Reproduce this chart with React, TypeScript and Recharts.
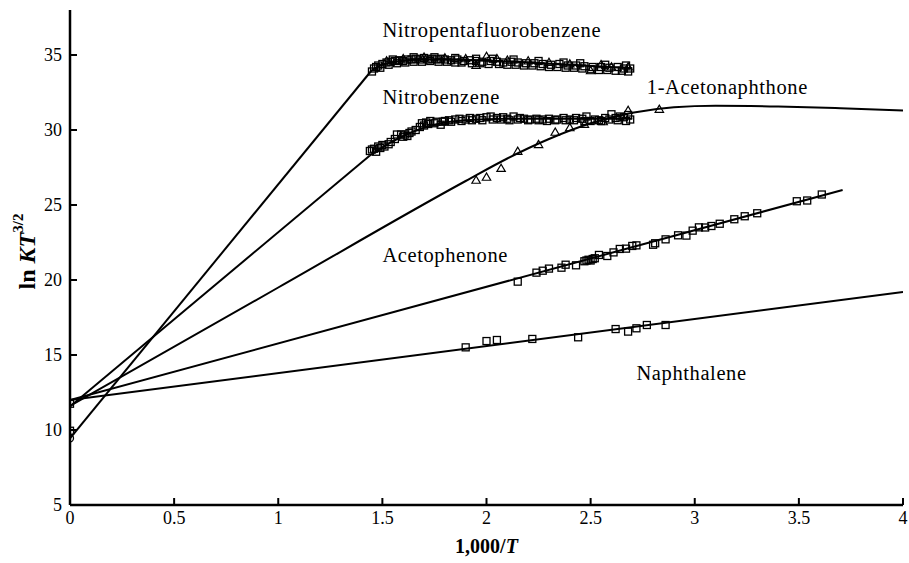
import React from 'react';
import { ComposedChart, Line, Scatter, XAxis, YAxis, ReferenceDot, Label } from 'recharts';

// Axis ticks
const xTicks = [0, 0.5, 1, 1.5, 2, 2.5, 3, 3.5, 4];
const yTicks = [5, 10, 15, 20, 25, 30, 35];

// Fitted curves: [1000/T, ln KT^(3/2)]
const nitropentafluorobenzeneLinear = [[0, 9.45], [1.45, 34.0]];
const nitropentafluorobenzeneCurve = [
  [1.45, 34.0], [1.5, 34.35], [1.6, 34.62], [1.7, 34.72], [2.0, 34.62], [2.3, 34.42], [2.7, 34.12],
];
const nitrobenzeneLinear = [[0, 11.57], [1.44, 28.3]];
const nitrobenzeneCurve = [
  [1.44, 28.3], [1.55, 29.25], [1.65, 29.9], [1.75, 30.35], [1.9, 30.65], [2.1, 30.75], [2.4, 30.75], [2.7, 30.75],
];
const acetonaphthoneFit = [
  [0, 11.6], [1.0, 19.5], [1.9, 26.6], [2.1, 28.1], [2.3, 29.4], [2.5, 30.45], [2.7, 31.15], [2.9, 31.52],
  [3.1, 31.62], [3.4, 31.57], [3.7, 31.45], [4.0, 31.3],
];
const acetophenoneFit = [[0, 12.0], [3.71, 26.0]];
const naphthaleneFit = [[0, 12.0], [4.0, 19.2]];

// Measured points
const nitropentafluorobenzeneSquares = [
  [1.45, 33.9], [1.46, 34.1], [1.47, 34.2], [1.48, 34.3], [1.5, 34.4], [1.52, 34.5], [1.54, 34.55], [1.56, 34.6],
  [1.58, 34.65], [1.6, 34.6], [1.62, 34.7], [1.64, 34.7], [1.66, 34.75], [1.68, 34.7], [1.7, 34.8], [1.72, 34.7],
  [1.74, 34.75], [1.76, 34.7], [1.78, 34.75], [1.8, 34.7], [1.83, 34.65], [1.86, 34.7], [1.89, 34.6], [1.92, 34.65],
  [1.95, 34.6], [1.98, 34.55], [2.02, 34.6], [2.05, 34.55], [2.08, 34.5], [2.12, 34.55], [2.15, 34.5], [2.19, 34.45],
  [2.23, 34.45], [2.27, 34.4], [2.31, 34.35], [2.35, 34.4], [2.39, 34.3], [2.43, 34.3], [2.47, 34.25], [2.51, 34.2],
  [2.55, 34.2], [2.59, 34.15], [2.63, 34.2], [2.66, 34.1], [2.69, 34.1],
  [1.49, 34.15], [1.53, 34.35], [1.57, 34.45], [1.61, 34.5], [1.65, 34.55], [1.69, 34.55], [1.73, 34.6], [1.77, 34.55],
  [1.81, 34.55], [1.85, 34.5], [1.88, 34.5], [1.93, 34.45], [1.97, 34.45], [2.01, 34.4], [2.06, 34.4], [2.1, 34.35],
  [2.14, 34.35], [2.18, 34.3], [2.22, 34.3], [2.26, 34.25], [2.3, 34.2], [2.34, 34.2], [2.38, 34.15], [2.42, 34.15],
  [2.46, 34.1], [2.5, 34.05], [2.54, 34.0], [2.58, 34.0], [2.62, 33.95], [2.65, 33.95], [2.68, 33.9],
  [1.55, 34.7], [1.65, 34.85], [1.75, 34.85], [1.85, 34.8], [1.95, 34.75], [2.03, 34.75], [2.13, 34.7], [2.25, 34.6],
  [2.37, 34.5], [2.45, 34.45], [2.57, 34.35], [2.67, 34.3],
];
const nitropentafluorobenzeneTriangles = [
  [1.52, 34.6], [1.6, 34.75], [1.7, 34.85], [1.8, 34.8], [1.9, 34.75], [1.95, 34.3], [2.0, 34.9], [2.05, 34.75],
  [2.1, 34.65], [2.2, 34.6], [2.3, 34.5], [2.4, 34.4], [2.5, 33.95], [2.55, 34.35], [2.6, 34.2], [2.68, 34.2],
];
const nitrobenzeneSquares = [
  [1.44, 28.6], [1.45, 28.7], [1.46, 28.75], [1.48, 28.9], [1.5, 29.0], [1.51, 28.9], [1.54, 29.2], [1.57, 29.7],
  [1.59, 29.7], [1.61, 29.7], [1.63, 29.8], [1.64, 29.9], [1.68, 30.2], [1.69, 30.45], [1.71, 30.5], [1.73, 30.6],
  [1.76, 30.55], [1.78, 30.35], [1.8, 30.6], [1.82, 30.65], [1.85, 30.7], [1.87, 30.75], [1.9, 30.7], [1.92, 30.8],
  [1.95, 30.75], [1.97, 30.8], [2.0, 30.85], [2.02, 30.9], [2.05, 30.8], [2.08, 30.85], [2.1, 30.75], [2.13, 30.9],
  [2.16, 30.8], [2.18, 30.75], [2.21, 30.7], [2.24, 30.75], [2.27, 30.7], [2.3, 30.75], [2.34, 30.7], [2.37, 30.8],
  [2.4, 30.7], [2.43, 30.8], [2.46, 30.75], [2.48, 30.9], [2.52, 30.7], [2.54, 30.65], [2.57, 30.8], [2.6, 31.05],
  [2.62, 30.8], [2.64, 30.9], [2.67, 30.6], [2.68, 31.0],
  [1.47, 28.55], [1.49, 28.8], [1.53, 29.05], [1.56, 29.4], [1.6, 29.55], [1.62, 29.6], [1.66, 30.0], [1.7, 30.3],
  [1.72, 30.4], [1.75, 30.45], [1.79, 30.55], [1.83, 30.55], [1.88, 30.6], [1.93, 30.65], [1.98, 30.65], [2.03, 30.7],
  [2.07, 30.7], [2.11, 30.65], [2.15, 30.7], [2.2, 30.65], [2.25, 30.65], [2.29, 30.6], [2.33, 30.65], [2.38, 30.65],
  [2.42, 30.65], [2.47, 30.6], [2.5, 30.6], [2.55, 30.6], [2.59, 30.7], [2.63, 30.65], [2.66, 30.85], [2.69, 30.7],
];
const acetonaphthoneTriangles = [
  [1.95, 26.65], [2.0, 26.85], [2.07, 27.44], [2.15, 28.58], [2.25, 29.03], [2.33, 29.85], [2.4, 30.15],
  [2.47, 30.38], [2.56, 30.55], [2.68, 31.3], [2.83, 31.38],
];
const acetophenoneSquares = [
  [2.15, 19.89], [2.24, 20.49], [2.27, 20.62], [2.3, 20.76], [2.36, 20.82], [2.38, 21.02], [2.43, 20.98],
  [2.47, 21.25], [2.48, 21.3], [2.49, 21.35], [2.5, 21.3], [2.51, 21.4], [2.52, 21.45], [2.54, 21.67],
  [2.58, 21.6], [2.61, 21.84], [2.64, 22.07], [2.67, 22.09], [2.7, 22.27], [2.72, 22.31], [2.8, 22.35],
  [2.81, 22.45], [2.86, 22.71], [2.92, 22.98], [2.96, 22.96], [2.99, 23.29], [3.02, 23.51], [3.05, 23.5],
  [3.08, 23.6], [3.12, 23.75], [3.19, 24.05], [3.24, 24.25], [3.3, 24.45], [3.49, 25.25], [3.54, 25.3], [3.61, 25.7],
];
const naphthaleneSquares = [
  [1.9, 15.51], [2.0, 15.93], [2.05, 16.0], [2.22, 16.07], [2.44, 16.18], [2.62, 16.73], [2.68, 16.56],
  [2.72, 16.78], [2.77, 17.0], [2.86, 17.0],
];
const interceptSquares = [[0, 11.75], [0, 9.95]];
const interceptCircles = [[0, 9.45]];

// Curve names with label anchor [x, y]
const curveLabels: { text: string; at: number[] }[] = [
  { text: 'Nitropentafluorobenzene', at: [1.5, 36.65] },
  { text: 'Nitrobenzene', at: [1.5, 32.2] },
  { text: '1-Acetonaphthone', at: [2.77, 32.87] },
  { text: 'Acetophenone', at: [1.5, 21.67] },
  { text: 'Naphthalene', at: [2.72, 13.8] },
];

const toPoints = (rows: number[][]) => rows.map(([x, y]) => ({ x, y }));

const SERIF = '"Liberation Serif", "Times New Roman", serif';

const SquareMark = (props: any) => {
  const { cx, cy } = props;
  if (cx == null || cy == null) return null;
  return <rect x={cx - 3.5} y={cy - 3.5} width={7} height={7} fill="none" stroke="#000" strokeWidth={1.3} />;
};

const TriangleMark = (props: any) => {
  const { cx, cy } = props;
  if (cx == null || cy == null) return null;
  return (
    <polygon
      points={`${cx},${cy - 4.2} ${cx - 4.2},${cy + 3} ${cx + 4.2},${cy + 3}`}
      fill="none"
      stroke="#000"
      strokeWidth={1.2}
    />
  );
};

const CircleMark = (props: any) => {
  const { cx, cy } = props;
  if (cx == null || cy == null) return null;
  return <circle cx={cx} cy={cy} r={3.5} fill="none" stroke="#000" strokeWidth={1.3} />;
};

const XTitle = (props: any) => {
  const { x, y, width } = props.viewBox;
  return (
    <text x={x + width / 2} y={y + 48} textAnchor="middle" fontFamily={SERIF} fontWeight="bold" fontSize={20} fill="#000">
      1,000/<tspan fontStyle="italic">T</tspan>
    </text>
  );
};

const YTitle = (props: any) => {
  const { y, height } = props.viewBox;
  const cx = 27;
  const cy = y + height / 2 - 6;
  return (
    <text
      x={cx}
      y={cy}
      transform={`rotate(-90, ${cx}, ${cy})`}
      textAnchor="middle"
      dominantBaseline="central"
      fontFamily={SERIF}
      fontWeight="bold"
      fontSize={24}
      fill="#000"
    >
      ln <tspan fontStyle="italic">KT</tspan>
      <tspan dy={-9} fontSize={15}>3/2</tspan>
    </text>
  );
};

const curveLabelRenderer = (text: string) => (props: any) => {
  const { x, y } = props.viewBox;
  return (
    <text x={x} y={y} dominantBaseline="central" fontFamily={SERIF} fontSize={20.5} letterSpacing={0.6} fill="#000">
      {text}
    </text>
  );
};

const tickStyle = { fontFamily: SERIF, fontSize: 18, fill: '#000' };

const lineProps = { dataKey: 'y', stroke: '#000', strokeWidth: 2, dot: false, activeDot: false, isAnimationActive: false } as const;

export default function App() {
  return (
    <div style={{ position: 'absolute', left: 0, top: 0, background: '#fff' }}>
      <ComposedChart width={909} height={563} margin={{ top: 10, right: 6, bottom: 0, left: 0 }}>
        <XAxis
          type="number"
          dataKey="x"
          domain={[0, 4]}
          ticks={xTicks}
          allowDataOverflow
          height={58}
          tickSize={-7}
          tickMargin={13}
          tick={tickStyle}
          axisLine={{ stroke: '#000', strokeWidth: 2.5 }}
          tickLine={{ stroke: '#000', strokeWidth: 2 }}
        >
          <Label content={XTitle} />
        </XAxis>
        <YAxis
          type="number"
          dataKey="y"
          domain={[5, 38]}
          ticks={yTicks}
          allowDataOverflow
          width={70}
          tickSize={-7}
          tickMargin={15}
          tick={tickStyle}
          axisLine={{ stroke: '#000', strokeWidth: 2.5 }}
          tickLine={{ stroke: '#000', strokeWidth: 2 }}
        >
          <Label content={YTitle} />
        </YAxis>

        <Line data={toPoints(nitropentafluorobenzeneLinear)} type="linear" {...lineProps} />
        <Line data={toPoints(nitropentafluorobenzeneCurve)} type="monotone" {...lineProps} />
        <Line data={toPoints(nitrobenzeneLinear)} type="linear" {...lineProps} />
        <Line data={toPoints(nitrobenzeneCurve)} type="monotone" {...lineProps} />
        <Line data={toPoints(acetonaphthoneFit)} type="monotone" {...lineProps} />
        <Line data={toPoints(acetophenoneFit)} type="linear" {...lineProps} />
        <Line data={toPoints(naphthaleneFit)} type="linear" {...lineProps} />

        <Scatter data={toPoints(nitropentafluorobenzeneSquares)} shape={SquareMark} isAnimationActive={false} />
        <Scatter data={toPoints(nitropentafluorobenzeneTriangles)} shape={TriangleMark} isAnimationActive={false} />
        <Scatter data={toPoints(nitrobenzeneSquares)} shape={SquareMark} isAnimationActive={false} />
        <Scatter data={toPoints(acetonaphthoneTriangles)} shape={TriangleMark} isAnimationActive={false} />
        <Scatter data={toPoints(acetophenoneSquares)} shape={SquareMark} isAnimationActive={false} />
        <Scatter data={toPoints(naphthaleneSquares)} shape={SquareMark} isAnimationActive={false} />
        <Scatter data={toPoints(interceptSquares)} shape={SquareMark} isAnimationActive={false} />
        <Scatter data={toPoints(interceptCircles)} shape={CircleMark} isAnimationActive={false} />

        {curveLabels.map((c) => (
          <ReferenceDot
            key={c.text}
            x={c.at[0]}
            y={c.at[1]}
            r={0}
            fill="none"
            stroke="none"
            label={curveLabelRenderer(c.text)}
          />
        ))}
      </ComposedChart>
    </div>
  );
}
